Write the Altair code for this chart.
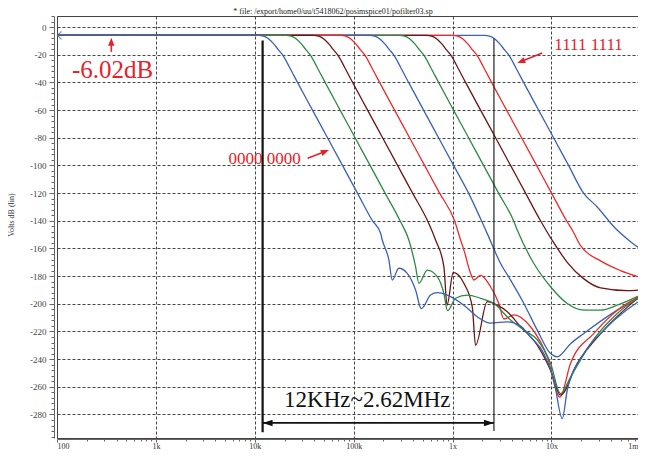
import altair as alt
import pandas as pd

# ---------------- data ----------------
TITLE = "* file: /export/home0/uu/t5418062/posimspice01/pofilter03.sp"
Y_TITLE = "Volts dB (lin)"

COLORS = ["#3b62b6", "#2e8a43", "#6b1515", "#ee2a2a",
          "#3b62b6", "#2e8a43", "#6b1515", "#ee2a2a", "#3b62b6"]

F1 = [100, 10900, 12250, 13760, 15460, 17360, 19050, 22430, 27030, 38320, 54350, 77050,
      109200, 154900, 187100, 194600, 226900, 245600, 286400, 348300, 422600, 482600,
      599100, 700400, 884000, 1301000, 1777000, 2423000, 3573000, 4870000, 6150000,
      8380000, 10570000, 12860000, 14440000, 21270000, 33870000, 89430000]
D1 = [-6.02, -6.02, -6.6, -8.5, -12, -16.5, -20, -29, -40, -60, -80, -100,
      -120, -140, -149, -153.9, -168.3, -182.8, -174.3, -178, -190, -203.5,
      -193.7, -192, -193.7, -201, -209.4, -214, -213, -216, -224,
      -236, -255, -283, -262.5, -236, -219, -195]

F2 = [100, 20730, 23300, 26160, 29400, 33020, 36240, 42660, 51410, 72890, 103400, 146500,
      207700, 294600, 361500, 422600, 456300, 554900, 700400, 816600, 890100, 1072000,
      1408000, 1919000, 2616000, 3859000, 5259000, 7184000, 9793000, 12360000, 15600000,
      24860000, 46290000, 89430000]
D2 = [-6.02, -6.02, -6.6, -8.5, -12, -16.5, -20, -29, -40, -60, -80, -100,
      -120, -140, -153.9, -173.2, -185.2, -175.6, -180.4, -192.5, -205, -196,
      -193.7, -196, -199.8, -211.8, -219, -226, -243, -265, -253,
      -228.8, -207, -192.5]

F3 = [100, 39310, 44180, 49610, 55740, 62620, 68710, 80900, 97490, 138200, 196000, 277900,
      393900, 558600, 673200, 816600, 879800, 1016000, 1301000, 1582000, 1708000, 2243000,
      2831000, 3573000, 4870000, 7184000, 9793000, 12360000, 18240000, 33870000, 89430000]
D3 = [-6.02, -6.02, -6.6, -8.5, -12, -16.5, -20, -29, -40, -60, -80, -100,
      -120, -140, -153.9, -173.2, -201, -177.3, -185.2, -202.2, -230, -198.5,
      -201, -205.7, -216.6, -229.8, -248, -266, -243, -219, -191.3]

F4 = [100, 73720, 82860, 93030, 104500, 117400, 128900, 151700, 182800, 259200, 367600,
      521100, 738700, 1048000, 1205000, 1301000, 1521000, 1642000, 1919000, 2423000,
      2938000, 3302000, 4168000, 6150000, 9069000, 12160000, 15600000, 26840000,
      46290000, 89430000]
D4 = [-6.02, -6.02, -6.6, -8.5, -12, -16.5, -20, -29, -40, -60, -80,
      -100, -120, -140, -153.9, -161, -178, -182.8, -179.5, -187.7,
      -199.8, -211, -208, -216.6, -238.3, -267.5, -243, -221.4,
      -204.6, -192.5]

F5 = [100, 144800, 162800, 182700, 205300, 230700, 253100, 298000, 359100, 509100, 722000,
      1024000, 1451000, 2243000, 3058000, 3859000, 5259000, 7184000, 9793000, 11440000,
      15600000, 21270000, 46290000, 89430000]
D5 = [-6.02, -6.02, -6.6, -8.5, -12, -16.5, -20, -29, -40, -60, -80,
      -100, -120, -149.3, -170.9, -182.9, -199.8, -219, -236, -238.3,
      -228.8, -221.4, -204.6, -193.7]

F6 = [100, 291200, 327300, 367500, 412900, 463900, 509000, 599300, 722200, 1024000, 1452000,
      2058000, 2918000, 4138000, 4510000, 6637000, 9793000, 14440000, 21270000, 31370000,
      46290000, 89430000]
D6 = [-6.02, -6.02, -6.6, -8.5, -12, -16.5, -20, -29, -40, -60, -80,
      -100, -120, -140, -146.7, -170.9, -187.7, -199.8, -204.6, -204.6,
      -201, -192]

F7 = [100, 545900, 613600, 688900, 774100, 869600, 954200, 1123000, 1354000, 1919000,
      2722000, 3859000, 5470000, 7757000, 10570000, 14440000, 21270000, 31370000,
      58400000, 89430000]
D7 = [-6.02, -6.02, -6.6, -8.5, -12, -16.5, -20, -29, -40, -60,
      -80, -100, -120, -140, -156, -170, -182, -188.5,
      -190.5, -189.5]

F8 = [100, 1000000, 1124000, 1262000, 1418000, 1593000, 1748000, 2058000, 2480000, 3516000,
      4986000, 7069000, 10020000, 14210000, 16230000, 19690000, 31370000, 49960000, 89430000]
D8 = [-6.02, -6.02, -6.6, -8.5, -12, -16.5, -20, -29, -40, -60,
      -80, -100, -120, -140, -146.7, -158, -169, -176, -182]

F9 = [100, 2107000, 2368000, 2659000, 2988000, 3356000, 3683000, 4336000, 5225000, 7408000,
      10510000, 14890000, 21110000, 29050000, 42760000, 63070000, 89430000]
D9 = [-6.02, -6.02, -6.6, -8.5, -12, -16.5, -20, -29, -40, -60,
      -80, -100, -120, -130, -144.3, -155.1, -163]

FREQS = [F1, F2, F3, F4, F5, F6, F7, F8, F9]
DBS = [D1, D2, D3, D4, D5, D6, D7, D8, D9]

DECADE_VALUES = [100, 1000, 10000, 100000, 1000000, 10000000, 75000000]
DECADE_LABELS = ["100", "1k", "10k", "100k", "1x", "10x", "1m"]

BAND_LO, BAND_HI = 12000, 2620000
BAND_TEXT = "12KHz~2.62MHz"

# ---------------- scales / axes ----------------
X_DOMAIN = [100, 75000000]
Y_DOMAIN = [-297, 8]

x_ticks = [m * 10 ** k for k in range(2, 8) for m in range(1, 10) if m * 10 ** k < 75000000] + [75000000]
y_ticks = list(range(-296, 9, 4))

dec_list = "[" + ",".join(str(v) for v in DECADE_VALUES) + "]"
lab_expr = ""
for v, l in zip(DECADE_VALUES, DECADE_LABELS):
    lab_expr += f"datum.value == {v} ? '{l}' : "
lab_expr += "''"

GRID_C = "#444"
AX_X = alt.Axis(
    values=x_ticks, labelExpr=lab_expr, title=None, offset=1,
    tickSize={"condition": {"test": f"indexof({dec_list}, datum.value) >= 0", "value": 3}, "value": 2},
    grid=True, gridDash=[3, 2], gridColor=GRID_C, gridWidth=1,
    gridOpacity={"condition": {"test": f"indexof({dec_list}, datum.value) >= 0 && datum.value < 70000000", "value": 1}, "value": 0},
    domainColor="#666", tickColor="#666", labelColor="#333",
    labelFont="Liberation Serif", labelFontSize=8, labelPadding=0,
    labelFlush=True, labelOverlap=False,
)
AX_Y = alt.Axis(
    values=y_ticks, labelExpr="datum.value % 20 == 0 ? '' + datum.value : ''", title=None, offset=3,
    tickSize={"condition": {"test": "datum.value % 20 == 0", "value": 5}, "value": 3},
    grid=True, gridDash=[3, 2], gridColor=GRID_C, gridWidth=1,
    gridOpacity={"condition": {"test": "datum.value % 20 == 0", "value": 1}, "value": 0},
    domainColor="#666", tickColor="#666", labelColor="#444",
    labelFont="Liberation Serif", labelFontSize=9, labelPadding=3, labelOverlap=False,
)
XS = alt.Scale(type="log", domain=X_DOMAIN, nice=False)
YS = alt.Scale(domain=Y_DOMAIN, nice=False, zero=False)


def X(field="f"):
    return alt.X(f"{field}:Q", scale=XS, axis=AX_X)


def Y(field="db"):
    return alt.Y(f"{field}:Q", scale=YS, axis=AX_Y)


layers = []
# curves: last code first so that the first curve sits on top
for i in range(8, -1, -1):
    df = pd.DataFrame({"f": FREQS[i], "db": DBS[i]})
    layers.append(
        alt.Chart(df).mark_line(clip=True, strokeWidth=1.3, interpolate="monotone", color=COLORS[i])
        .encode(x=X(), y=Y())
    )

# left open arrow head on the pass band line
layers.append(
    alt.Chart(pd.DataFrame({"f": [111], "db": [-6.02]}))
    .mark_point(shape="M0,-1L-1,0L0,1", size=64, filled=False, color=COLORS[0], strokeWidth=1.3)
    .encode(x=X(), y=Y())
)

RED = "#e8202a"
# red annotation texts
red_txt = pd.DataFrame({
    "f": [365, 23700000, 12560],
    "db": [-36.7, -16.9, -99.1],
    "t": ["-6.02dB", "1111 1111", "0000 0000"],
    "s": [25, 17, 17],
})
layers.append(
    alt.Chart(red_txt).mark_text(font="Liberation Serif", color=RED, align="center", baseline="alphabetic")
    .encode(x=X(), y=Y(), text="t:N", size=alt.Size("s:Q", scale=None, legend=None))
)
# red arrows (shafts)
red_shafts = pd.DataFrame({
    "f": [354, 8070000, 34200],
    "f2": [354, 4914000, 51480],
    "db": [-17.9, -18.8, -94.8],
    "db2": [-10.6, -24.96, -89.9],
})
layers.append(
    alt.Chart(red_shafts).mark_rule(color=RED, strokeWidth=1.6)
    .encode(x=X(), x2="f2:Q", y=Y(), y2="db2:Q")
)
red_heads = pd.DataFrame({
    "f": [354, 4914000, 51480],
    "db": [-10.6, -24.96, -89.9],
    "a": [0, 248.2, 68.7],
})
layers.append(
    alt.Chart(red_heads).mark_point(shape="M0,-1L0.8,1L-0.8,1Z", size=64, filled=True, color=RED, opacity=1)
    .encode(x=X(), y=Y(), angle=alt.Angle("a:Q", scale=None))
)

# band markers
vlines = pd.DataFrame({"f": [BAND_LO], "db": [-9.7], "db2": [-292.8]})
layers.append(
    alt.Chart(vlines).mark_rule(color="#111", strokeWidth=2.2).encode(x=X(), y=Y(), y2="db2:Q")
)
vlines2 = pd.DataFrame({"f": [BAND_HI], "db": [-8.5], "db2": [-292.0]})
layers.append(
    alt.Chart(vlines2).mark_rule(color="#222", strokeWidth=1.2).encode(x=X(), y=Y(), y2="db2:Q")
)
hline = pd.DataFrame({"f": [BAND_LO], "f2": [BAND_HI], "db": [-286.1]})
layers.append(
    alt.Chart(hline).mark_rule(color="#111", strokeWidth=1.6).encode(x=X(), x2="f2:Q", y=Y())
)
layers.append(
    alt.Chart(pd.DataFrame({"f": [13470], "db": [-286.1]}))
    .mark_point(shape="M-1,0L1,-0.65L1,0.65Z", size=100, filled=True, color="#111", opacity=1)
    .encode(x=X(), y=Y())
)
layers.append(
    alt.Chart(pd.DataFrame({"f": [2333000], "db": [-286.1]}))
    .mark_point(shape="M1,0L-1,-0.65L-1,0.65Z", size=100, filled=True, color="#111", opacity=1)
    .encode(x=X(), y=Y())
)
layers.append(
    alt.Chart(pd.DataFrame({"f": [137300], "db": [-274.5], "t": [BAND_TEXT]}))
    .mark_text(font="Liberation Serif", fontSize=23, color="#111", align="center", baseline="alphabetic")
    .encode(x=X(), y=Y(), text="t:N")
)

# file title and y title (text placed in pixels around the plot)
layers.append(
    alt.Chart(pd.DataFrame({"t": [TITLE]}))
    .mark_text(font="Liberation Serif", fontSize=8, color="#222", align="center", baseline="alphabetic")
    .encode(x=alt.value(276), y=alt.value(-2.5), text="t:N")
)
layers.append(
    alt.Chart(pd.DataFrame({"t": [Y_TITLE]}))
    .mark_text(font="Liberation Serif", fontSize=8, color="#333", align="center", baseline="middle", angle=270)
    .encode(x=alt.value(-45), y=alt.value(199), text="t:N")
)

chart = (
    alt.layer(*layers)
    .properties(
        width=581, height=422,
        autosize=alt.AutoSizeParams(type="none"),
        padding={"left": 49, "top": 8, "right": 0, "bottom": 13},
        background="white",
    )
    .configure_view(stroke="#444", strokeWidth=1)
)

chart.save("out.html", embed_options={"renderer": "svg", "actions": False})
